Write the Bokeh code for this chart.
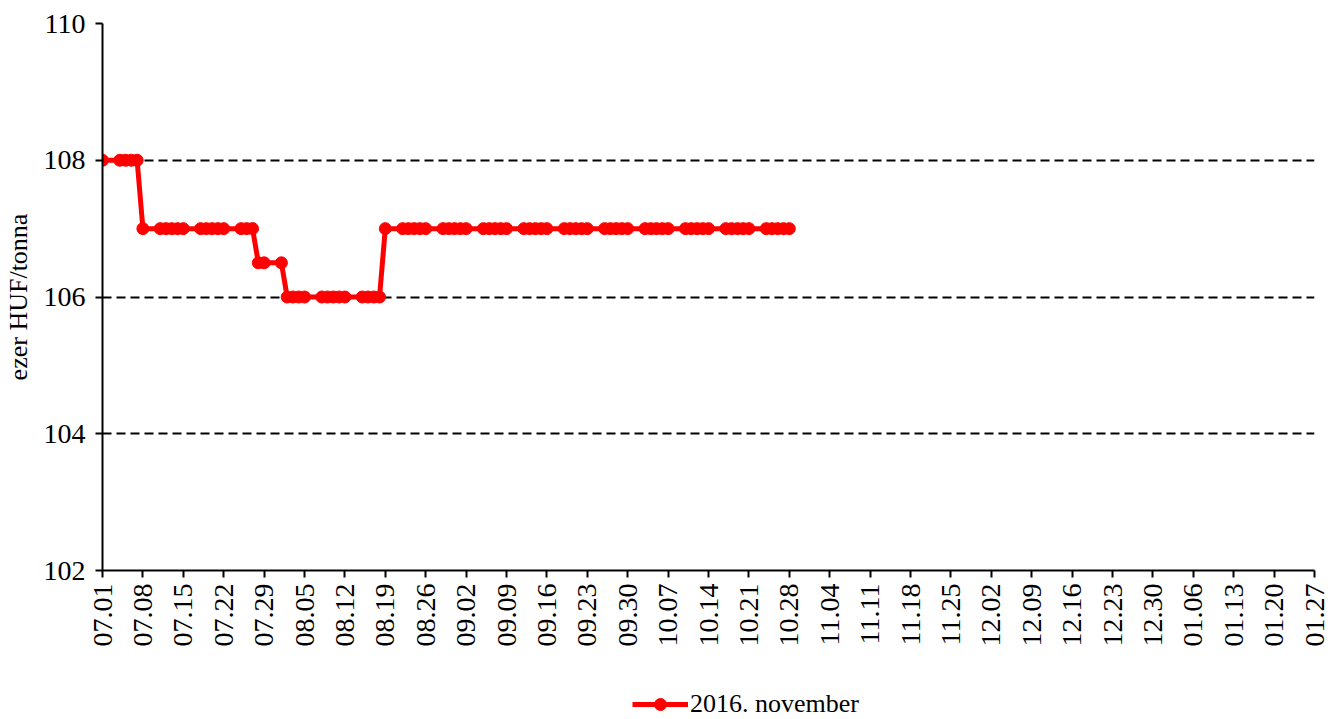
import pandas as pd
from bokeh.plotting import figure
from bokeh.layouts import column
from bokeh.models import Range1d, FixedTicker, Legend, LegendItem
from bokeh.embed import file_html
from bokeh.resources import INLINE
from math import pi

# ---- data ----
start_date = "2016-07-01"
end_date = "2017-01-27"
series_name = "2016. november"
# business days 2016-07-01 .. 2016-10-28
data_dates = pd.bdate_range("2016-07-01", "2016-10-28")
prices = [
    108,
    108, 108, 108, 108, 107,
    107, 107, 107, 107, 107,
    107, 107, 107, 107, 107,
    107, 107, 107, 106.5, 106.5,
    106.5, 106, 106, 106, 106,
    106, 106, 106, 106, 106,
    106, 106, 106, 106, 107,
    107, 107, 107, 107, 107,
    107, 107, 107, 107, 107,
    107, 107, 107, 107, 107,
    107, 107, 107, 107, 107,
    107, 107, 107, 107, 107,
    107, 107, 107, 107, 107,
    107, 107, 107, 107, 107,
    107, 107, 107, 107, 107,
    107, 107, 107, 107, 107,
    107, 107, 107, 107, 107,
]
tick_dates = pd.date_range(start_date, end_date, freq="7D")
tick_labels = [d.strftime("%m.%d") for d in tick_dates]
y_ticks = [102, 104, 106, 108, 110]
grid_levels = [104, 106, 108, 110]

t0 = pd.Timestamp(start_date)
xs = [(d - t0).days for d in data_dates]
tick_pos = [(d - t0).days for d in tick_dates]

FONT = "Liberation Serif"
RED = "#FF0000"

p = figure(width=1333, height=680, output_backend="svg", toolbar_location=None,
           x_range=Range1d(0, tick_pos[-1]), y_range=Range1d(102, 110),
           min_border_left=102, min_border_right=19, min_border_top=23,
           min_border_bottom=110)
p.outline_line_color = None
p.background_fill_color = "white"

p.xgrid.visible = False
p.ygrid.ticker = FixedTicker(ticks=grid_levels)
p.ygrid.grid_line_color = "black"
p.ygrid.grid_line_dash = "9 5"
p.ygrid.grid_line_width = 2

xa = p.xaxis[0]
xa.ticker = FixedTicker(ticks=tick_pos)
xa.major_label_overrides = {t: l for t, l in zip(tick_pos, tick_labels)}
xa.major_label_orientation = pi / 2
xa.major_label_text_font = FONT
xa.major_label_text_font_size = "28px"
xa.major_label_text_color = "black"
xa.major_tick_out = 7
xa.major_tick_in = 0
xa.minor_tick_out = 0
xa.minor_tick_in = 0
xa.axis_line_color = "black"
xa.axis_line_width = 2
xa.major_tick_line_width = 2
xa.major_label_standoff = 6

ya = p.yaxis[0]
ya.ticker = FixedTicker(ticks=y_ticks)
ya.major_label_text_font = FONT
ya.major_label_text_font_size = "28px"
ya.major_label_text_color = "black"
ya.major_tick_out = 7
ya.major_tick_in = 0
ya.minor_tick_out = 0
ya.minor_tick_in = 0
ya.axis_line_color = "black"
ya.axis_line_width = 2
ya.major_tick_line_width = 2
ya.major_label_standoff = 10
ya.axis_label = "ezer HUF/tonna"
ya.axis_label_text_font = FONT
ya.axis_label_text_font_size = "26px"
ya.axis_label_text_font_style = "normal"
ya.axis_label_text_color = "black"
ya.axis_label_standoff = 8

ln = p.line(xs, prices, line_color=RED, line_width=5)
sc = p.scatter(xs, prices, size=12, fill_color=RED, line_color=RED)

# legend strip below the chart (frame is aligned with the main chart's frame)
p2 = figure(width=1333, height=39, output_backend="svg", toolbar_location=None,
            x_axis_location=None, y_axis_location=None,
            x_range=Range1d(0, 1), y_range=Range1d(0, 1),
            min_border_left=0, min_border_right=0, min_border_top=0,
            min_border_bottom=0)
p2.outline_line_color = None
p2.xgrid.visible = False
p2.ygrid.visible = False
# the legend strip reuses the main series' glyph styles (same data, outside the strip's view)
ln2 = p2.line(xs, prices, line_color=RED, line_width=5)
sc2 = p2.scatter(xs, prices, size=12, fill_color=RED, line_color=RED)
legend = Legend(items=[LegendItem(label=series_name, renderers=[ln2, sc2])],
                location=(530, 0), orientation="horizontal",
                border_line_color=None, background_fill_alpha=0,
                padding=0, margin=0, spacing=0,
                glyph_width=56, glyph_height=30, label_standoff=2,
                label_text_font=FONT, label_text_font_size="26px",
                label_text_color="black")
p2.add_layout(legend)

layout = column(p, p2, spacing=0)
open("out.html", "w").write(file_html(layout, INLINE))
